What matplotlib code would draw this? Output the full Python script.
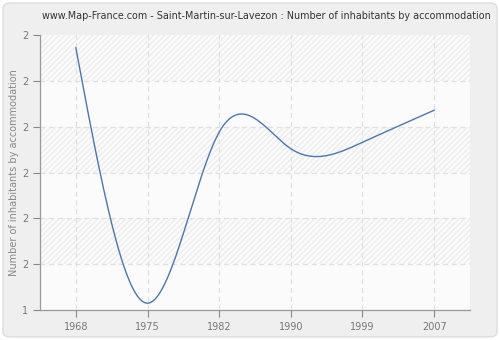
import numpy as np
import matplotlib
matplotlib.use("Agg")
import matplotlib.pyplot as plt
from matplotlib.patches import FancyBboxPatch

years = ["1968", "1975", "1982", "1990", "1999", "2007"]
values = [1.972, 1.415, 1.788, 1.752, 1.766, 1.836]
y_ticks = [1.4, 1.5, 1.6, 1.7, 1.8, 1.9, 2.0]
y_tick_labels = ["1", "2", "2", "2", "2", "2", "2"]
title = "www.Map-France.com - Saint-Martin-sur-Lavezon : Number of inhabitants by accommodation"
y_label = "Number of inhabitants by accommodation"


def natural_spline(x, y, n=400):
    x = np.asarray(x, float)
    y = np.asarray(y, float)
    k = len(x)
    h = np.diff(x)
    A = np.zeros((k, k))
    b = np.zeros(k)
    A[0, 0] = 1
    A[-1, -1] = 1
    for i in range(1, k - 1):
        A[i, i - 1] = h[i - 1]
        A[i, i] = 2 * (h[i - 1] + h[i])
        A[i, i + 1] = h[i]
        b[i] = 6 * ((y[i + 1] - y[i]) / h[i] - (y[i] - y[i - 1]) / h[i - 1])
    M = np.linalg.solve(A, b)
    xs = np.linspace(x[0], x[-1], n)
    ys = np.empty_like(xs)
    for j, xv in enumerate(xs):
        i = min(np.searchsorted(x, xv, side="right") - 1, k - 2)
        t0 = x[i + 1] - xv
        t1 = xv - x[i]
        hi = h[i]
        ys[j] = (M[i] * t0 ** 3 / (6 * hi) + M[i + 1] * t1 ** 3 / (6 * hi)
                 + (y[i] / hi - M[i] * hi / 6) * t0
                 + (y[i + 1] / hi - M[i + 1] * hi / 6) * t1)
    return xs, ys


fig = plt.figure(figsize=(5, 3.4), dpi=100)
fig.patch.set_facecolor("white")
bg = FancyBboxPatch((0.006, 0.009), 0.988, 0.982, boxstyle="round,pad=0,rounding_size=0.015",
                    transform=fig.transFigure, facecolor="#efefef", edgecolor="#dddddd",
                    linewidth=1, zorder=-10)
fig.patches.append(bg)

ax = fig.add_axes([0.08, 0.088, 0.86, 0.809])
ax.set_facecolor("#fbfbfb")
ax.set_xlim(-0.5, len(years) - 0.5)
ax.set_ylim(y_ticks[0], y_ticks[-1])

plt.rcParams["hatch.linewidth"] = 0.7
for i in range(len(y_ticks) - 1):
    if i % 2 == 1:
        ax.axhspan(y_ticks[i], y_ticks[i + 1], facecolor="#fbfbfb", edgecolor="#e8e8e8",
                   hatch="//////", linewidth=0, zorder=0)

for yt in y_ticks[1:-1]:
    ax.axhline(yt, color="#e0e0e0", linestyle=(0, (4, 3)), linewidth=0.9, zorder=1)
for xi in range(len(years)):
    ax.axvline(xi, color="#e0e0e0", linestyle=(0, (4, 3)), linewidth=0.9, zorder=1)

xs, ys = natural_spline(np.arange(len(years)), values)
ax.plot(xs, ys, color="#4b77b0", linewidth=1.0, zorder=3)

ax.set_xticks(range(len(years)))
ax.set_xticklabels(years)
ax.set_yticks(y_ticks)
ax.set_yticklabels(y_tick_labels)
ax.tick_params(axis="both", colors="#888888", labelcolor="#777777", labelsize=7,
               length=5, width=0.8, direction="out")
for s in ["top", "right"]:
    ax.spines[s].set_visible(False)
for s in ["left", "bottom"]:
    ax.spines[s].set_color("#999999")
    ax.spines[s].set_linewidth(0.9)

ax.set_ylabel(y_label, fontsize=7, color="#888888", labelpad=2)
fig.text(0.533, 0.952, title, ha="center", va="center", fontsize=6.9, color="#333333")

fig.savefig("out.png", dpi=100, facecolor=fig.get_facecolor())
